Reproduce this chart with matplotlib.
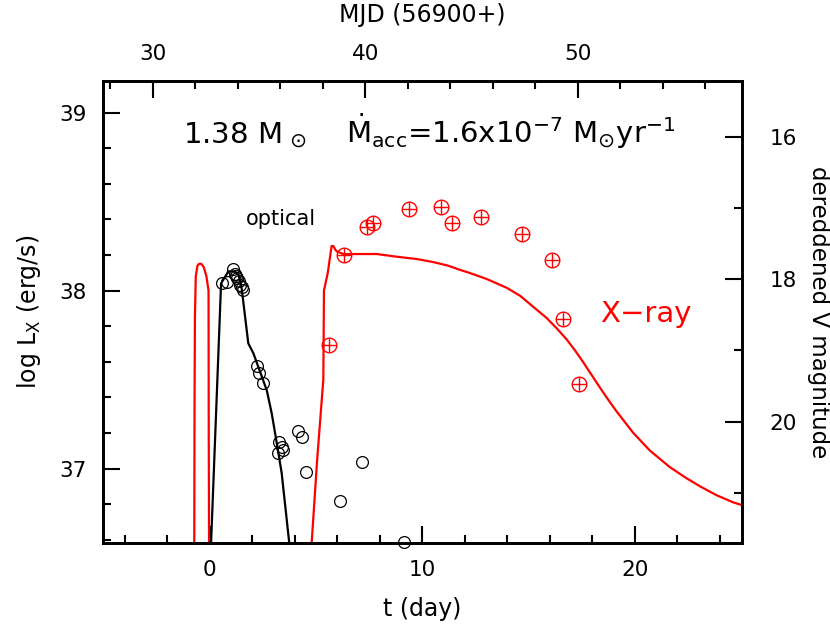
# X-ray / optical light curve of a recurrent nova outburst model

import matplotlib
matplotlib.use("Agg")
import matplotlib.pyplot as plt
from matplotlib.ticker import MultipleLocator

# time offset between t (day) and MJD - 56900
mjd_offset = 32.69
t_range = (-5.01, 25.02)

# X-ray model: log L_X vs t
xray_model_t = [-0.76, -0.73, -0.72, -0.70, -0.66, -0.58, -0.50, -0.40, -0.28,
                -0.16, -0.06, -0.05, -0.03,
                4.70, 4.79, 5.05, 5.34, 5.37, 5.55, 5.73, 5.81, 5.90, 5.97, 6.28,
                7.00, 7.85, 8.79, 9.73, 10.50, 11.20, 11.77, 12.24, 13.02, 13.97,
                14.60, 15.20, 15.85, 16.30, 16.79, 17.20, 17.55, 17.88, 18.35, 18.75,
                19.14, 19.92, 20.71, 21.65, 22.43, 23.06, 23.84, 24.62, 25.02]
xray_model_L = [36.30, 36.58, 37.30, 37.85, 38.08, 38.14, 38.15, 38.15, 38.13,
                38.08, 38.00, 37.20, 36.30,
                36.30, 36.58, 37.05, 37.50, 38.00, 38.10, 38.25, 38.25, 38.23, 38.22, 38.205,
                38.205, 38.205, 38.19, 38.177, 38.16, 38.14, 38.116, 38.098, 38.065, 38.015,
                37.97, 37.91, 37.845, 37.79, 37.725, 37.66, 37.60, 37.54, 37.455, 37.385,
                37.32, 37.20, 37.10, 37.007, 36.945, 36.90, 36.85, 36.81, 36.795]

# X-ray observations
xray_obs_t = [5.61, 6.33, 7.38, 7.69, 9.37, 10.89, 11.38, 12.76, 14.68, 16.10, 16.63, 17.38]
xray_obs_L = [37.694, 38.20, 38.358, 38.378, 38.458, 38.471, 38.378, 38.411, 38.317,
              38.171, 37.842, 37.473]

# optical model: dereddened V magnitude vs t
opt_model_t = [0.02, 0.06, 0.53, 0.87, 1.11, 1.34, 1.50, 1.81, 2.05, 2.68, 2.91,
               3.15, 3.38, 3.74, 3.80]
opt_model_V = [22.5, 21.70, 18.06, 17.89, 17.89, 17.92, 18.13, 18.90, 19.04, 19.56,
               19.88, 20.30, 20.72, 21.71, 21.85]

# optical observations
opt_obs_t = [0.56, 0.79, 1.11, 1.19, 1.23, 1.30, 1.36, 1.42, 1.50, 1.55, 2.21, 2.33,
             2.49, 3.27, 3.38, 3.46, 3.22, 4.16, 4.32, 4.51, 6.14, 7.14, 9.15]
opt_obs_V = [18.06, 18.04, 17.85, 17.92, 17.96, 17.99, 18.03, 18.08, 18.11, 18.15,
             19.22, 19.32, 19.45, 20.28, 20.35, 20.40, 20.44, 20.13, 20.22, 20.70,
             21.12, 20.57, 21.69]

fig = plt.figure(figsize=(8.3, 6.28), dpi=100)
ax = fig.add_axes([103.3 / 830, 1 - 543.3 / 628, (741.7 - 103.3) / 830, (543.3 - 81) / 628])

ax.plot(xray_model_t, xray_model_L, color="red", lw=1.6)
ax.plot(xray_obs_t, xray_obs_L, "o", ms=10.5, mfc="none", mec="red", mew=1.0)
ax.plot(xray_obs_t, xray_obs_L, "+", ms=10.5, color="red", mew=1.0)

ax.set_xlim(*t_range)
ax.set_ylim(36.58, 39.177)
ax.set_xlabel("t (day)", fontsize=17, labelpad=12)
ax.set_ylabel(r"log L$_{\rm X}$ (erg/s)", fontsize=17, labelpad=12)
ax.xaxis.set_major_locator(MultipleLocator(10))
ax.xaxis.set_minor_locator(MultipleLocator(2))
ax.yaxis.set_major_locator(MultipleLocator(1))
ax.yaxis.set_minor_locator(MultipleLocator(0.2))
ax.tick_params(which="both", direction="in", top=False, right=False,
               labelsize=15.5, width=1.5)
ax.tick_params(which="major", length=12, pad=12)
ax.tick_params(which="minor", length=6)

# right axis: dereddened V magnitude
ax2 = ax.twinx()
ax2.plot(opt_model_t, opt_model_V, color="black", lw=1.6)
ax2.plot(opt_obs_t, opt_obs_V, "o", ms=8.5, mfc="none", mec="black", mew=0.9,
         clip_on=False)
ax2.set_ylim(21.707, 15.218)
ax2.set_ylabel("dereddened V magnitude", fontsize=16.5, rotation=270, labelpad=24)
ax2.yaxis.set_major_locator(MultipleLocator(2))
ax2.yaxis.set_minor_locator(MultipleLocator(1))
ax2.tick_params(which="both", direction="in", labelsize=15.5, width=1.5)
ax2.tick_params(which="major", length=12, pad=20)
ax2.tick_params(which="minor", length=6)

# top axis: MJD
ax3 = ax.twiny()
ax3.set_xlim(t_range[0] + mjd_offset, t_range[1] + mjd_offset)
ax3.set_xlabel("MJD (56900+)", fontsize=17, labelpad=16)
ax3.xaxis.set_major_locator(MultipleLocator(10))
ax3.xaxis.set_minor_locator(MultipleLocator(2))
ax3.tick_params(which="both", direction="in", labelsize=15.5, width=1.5)
ax3.tick_params(which="major", length=12, pad=12)
ax3.tick_params(which="minor", length=6)

for a in (ax, ax2, ax3):
    for s in a.spines.values():
        s.set_linewidth(1.8)

fig.text(183 / 830, 1 - 143 / 628, r"1.38 M$_{\,\odot}$", fontsize=21, va="baseline")
fig.text(346 / 830, 1 - 143 / 628,
         r"$\dot{\rm M}_{\rm acc}$=1.6x10$^{-7}$ M$_{\odot}$yr$^{-1}$",
         fontsize=21, va="baseline")
fig.text(246 / 830, 1 - 219 / 628, "optical", fontsize=15, va="center")
fig.text(600 / 830, 1 - 314 / 628, "X\u2212ray", fontsize=21, va="center", color="red")

fig.savefig("out.png", dpi=100)
